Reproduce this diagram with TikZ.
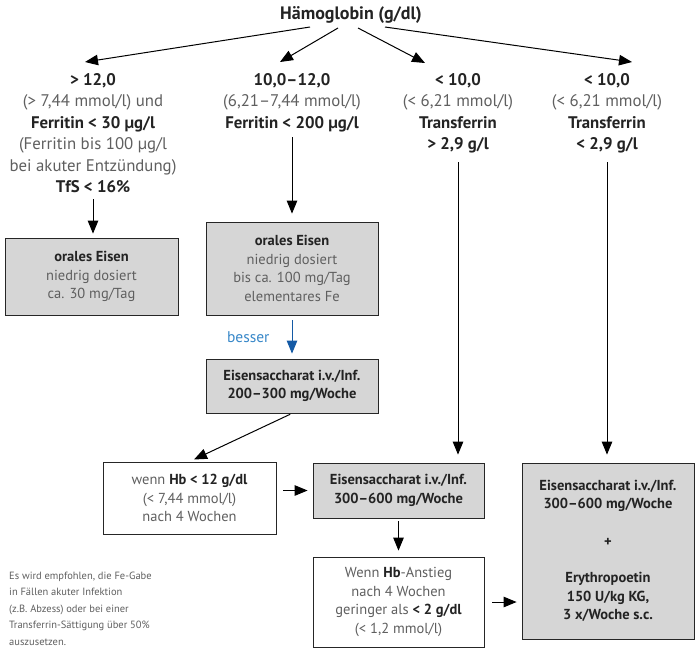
\documentclass[tikz,border=0pt]{standalone}
\usepackage{fontspec}
\setmainfont{PT Sans}
\usetikzlibrary{arrows.meta}
\definecolor{boxgray}{RGB}{214,214,214}
\definecolor{txt}{RGB}{95,95,95}
\definecolor{txtb}{RGB}{35,35,35}
\definecolor{bluearr}{RGB}{20,90,165}
\definecolor{bluetxt}{RGB}{55,135,200}
\newcommand{\bt}[1]{\textbf{\color{txtb}#1}}
\begin{document}
\begin{tikzpicture}[x=1pt,y=-1pt,
 every node/.style={text=txt, inner sep=0pt},
 coltext/.style={align=center, anchor=north, font=\fontsize{16.8}{21.5}\selectfont},
 box/.style={draw=black!85, line width=0.8pt, align=center, font=\fontsize{14.5}{18.5}\selectfont},
 graybox/.style={box, fill=boxgray},
 arr/.style={draw=black, line width=1pt, -{Triangle[length=13pt,width=10.5pt]}},
 bluearrow/.style={draw=bluearr, line width=1pt, -{Triangle[length=13pt,width=10.5pt]}},
]
\useasboundingbox (0,0) rectangle (696,649);

\node[font=\fontsize{18}{20}\selectfont\bfseries, text=txtb] (title) at (351,15) {Hämoglobin (g/dl)};

\node[coltext] (c1) at (93,70) {\strut\bt{> 12,0}\\ \strut(> 7,44 mmol/l) und\\ \strut\bt{Ferritin < 30 µg/l}\\ \strut(Ferritin bis 100 µg/l\\ \strut bei akuter Entzündung)\\ \strut\bt{TfS < 16\%}};
\node[coltext] (c2) at (292,70) {\strut\bt{10,0–12,0}\\ \strut(6,21–7,44 mmol/l)\\ \strut\bt{Ferritin < 200 µg/l}};
\node[coltext] (c3) at (458,70) {\strut\bt{< 10,0}\\ \strut(< 6,21 mmol/l)\\ \strut\bt{Transferrin}\\ \strut\bt{> 2,9 g/l}};
\node[coltext] (c4) at (607,70) {\strut\bt{< 10,0}\\ \strut(< 6,21 mmol/l)\\ \strut\bt{Transferrin}\\ \strut\bt{< 2,9 g/l}};

\node[graybox, minimum width=173pt, minimum height=77pt] (b1) at (91.5,276.5) {\bt{orales Eisen}\\ niedrig dosiert\\ ca. 30 mg/Tag};
\node[graybox, minimum width=172pt, minimum height=93pt] (b2) at (292,268.5) {\bt{orales Eisen}\\ niedrig dosiert\\ bis ca. 100 mg/Tag\\ elementares Fe};
\node[graybox, minimum width=172pt, minimum height=54pt] (b3) at (292,386) {\bt{Eisensaccharat i.v./Inf.}\\ \bt{200–300 mg/Woche}};
\node[box, fill=white, minimum width=173pt, minimum height=72pt] (b4) at (189.5,498) {wenn \bt{Hb < 12 g/dl}\\ (< 7,44 mmol/l)\\ nach 4 Wochen};
\node[graybox, minimum width=171pt, minimum height=55pt] (b5) at (398.5,490.5) {\bt{Eisensaccharat i.v./Inf.}\\ \bt{300–600 mg/Woche}};
\node[graybox, minimum width=172pt, minimum height=176pt] (b6) at (608,551) {\bt{Eisensaccharat i.v./Inf.}\\ \bt{300–600 mg/Woche}\\[19pt] \bt{+}\\[18pt] \bt{Erythropoetin}\\ \bt{150 U/kg KG,}\\ \bt{3 x/Woche s.c.}};
\node[box, fill=white, minimum width=171pt, minimum height=90pt] (b7) at (398.5,602) {Wenn \bt{Hb}-Anstieg\\ nach 4 Wochen\\ geringer als \bt{< 2 g/dl}\\ (< 1,2 mmol/l)};

\node[anchor=north west, align=left, font=\fontsize{10.5}{16.5}\selectfont] (note) at (9,567.5) {\strut Es wird empfohlen, die Fe-Gabe\\ \strut in Fällen akuter Infektion\\ \strut (z.B. Abzess) oder bei einer\\ \strut Transferrin-Sättigung über 50\%\\ \strut auszusetzen.};

\coordinate (s1) at (310,27); \coordinate (e1) at (85,62);
\coordinate (s2) at (338,28); \coordinate (e2) at (280,62);
\coordinate (s3) at (358,28); \coordinate (e3) at (425,63);
\coordinate (s4) at (385,27); \coordinate (e4) at (632,62);
\draw[arr] (s1) -- (e1);
\draw[arr] (s2) -- (e2);
\draw[arr] (s3) -- (e3);
\draw[arr] (s4) -- (e4);

\draw[arr, shorten <=0pt, shorten >=4pt] (c1.south) -- (c1.south |- b1.north);
\draw[arr, shorten <=2.5pt, shorten >=8pt] (c2.south) -- (c2.south |- b2.north);
\draw[arr, shorten <=6pt, shorten >=8pt] (c3.south) -- (c3.south |- b5.north);
\draw[arr, shorten <=6pt, shorten >=8pt] (c4.south) -- (c4.south |- b6.north);
\draw[bluearrow, shorten <=5pt, shorten >=5pt] (b2.south) -- node[left=22pt, text=bluetxt, font=\fontsize{15.5}{18}\selectfont] (lab) {besser} (b3.north);
\draw[arr, shorten <=2pt, shorten >=5pt] (b3.south) -- (b4.north);
\draw[arr, shorten <=7pt, shorten >=5pt] (b4.east |- b5.west) -- (b5.west);
\draw[arr, shorten <=3pt, shorten >=6pt] (b5.south) -- (b7.north);
\draw[arr, shorten <=8pt, shorten >=5pt] (b7.east) -- (b7.east -| b6.west);
\end{tikzpicture}
\end{document}
